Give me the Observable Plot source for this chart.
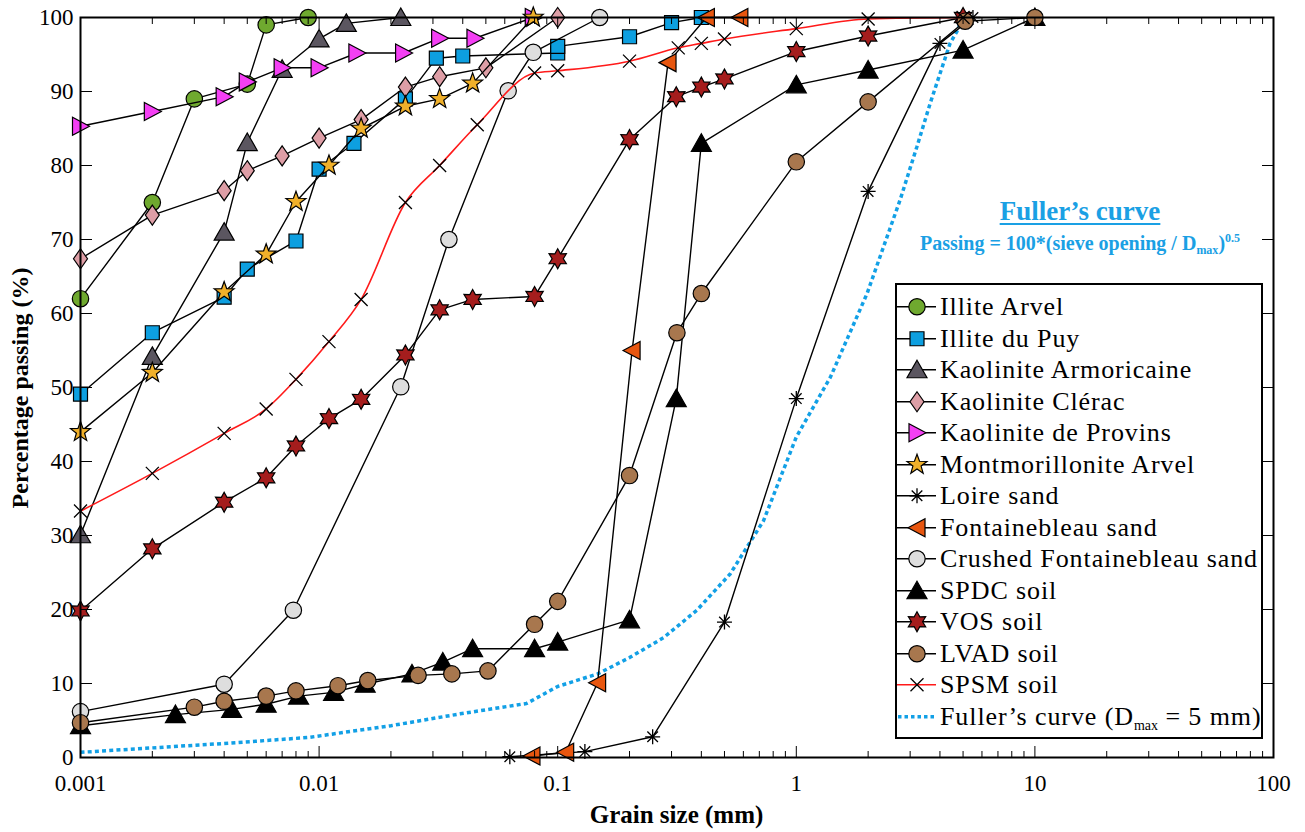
<!DOCTYPE html>
<html><head><meta charset="utf-8">
<script src="https://cdn.jsdelivr.net/npm/d3@7"></script>
<script src="https://cdn.jsdelivr.net/npm/@observablehq/plot@0.6"></script>
<style>
html,body{margin:0;padding:0;background:#fff;}
#wrap{position:relative;width:1305px;height:832px;font-family:"Liberation Serif","Times New Roman",serif;color:#000;}
#wrap svg{position:absolute;left:0;top:0;}
.ov{position:absolute;white-space:nowrap;}
#xtitle{left:0;width:1353px;top:801px;text-align:center;font-weight:bold;font-size:25px;line-height:28px;}
#ytitle{left:20px;top:388px;transform:translate(-50%,-50%) rotate(-90deg);font-weight:bold;font-size:24px;}
#fuller{left:880px;width:400px;top:196px;text-align:center;color:#1aa0e4;font-weight:bold;font-size:27px;text-decoration:underline;text-decoration-thickness:2px;text-underline-offset:3px;}
#fuller2{left:880px;width:400px;top:231px;text-align:center;color:#1aa0e4;font-weight:bold;font-size:20px;}
#fuller2 sub{font-size:12px;vertical-align:-4px;}
#fuller2 sup{font-size:12px;vertical-align:8px;}
#legend{left:895px;top:283px;width:364px;height:452px;border:2px solid #000;background:#fff;}
.row{position:absolute;left:0;height:31.5px;line-height:31.5px;font-size:26px;letter-spacing:0.9px;}
.row svg{position:absolute;left:2px;top:0;}
.row span{position:absolute;left:43px;top:0;}
.row sub{font-size:14px;vertical-align:-5px;letter-spacing:0;}
</style></head><body><div id="wrap"></div>
<script>
// ---------- data (grain size in mm, percentage passing) ----------
const illiteArvel = [[0.001,62],[0.002,75],[0.003,89],[0.005,91],[0.006,99],[0.009,100]];
const illiteDuPuy = [[0.001,49.1],[0.002,57.4],[0.004,62.2],[0.005,66],[0.008,69.8],[0.01,79.5],[0.014,83],[0.023,89],[0.031,94.5],[0.04,94.8],[0.1,95.2],[0.1,96.1],[0.2,97.4],[0.3,99.3],[0.4,100]];
const kaoliniteArmoricaine = [[0.001,30.1],[0.002,54.2],[0.004,71],[0.005,83.1],[0.007,93],[0.01,97.1],[0.013,99.2],[0.022,100]];
const kaoliniteClerac = [[0.001,67.4],[0.002,73.3],[0.004,76.6],[0.005,79.3],[0.007,81.3],[0.01,83.7],[0.015,86.2],[0.023,90.6],[0.032,92],[0.05,93.2],[0.1,100]];
const kaoliniteProvins = [[0.001,85.3],[0.002,87.3],[0.004,89.3],[0.005,91.3],[0.007,93.2],[0.01,93.2],[0.0144,95.2],[0.0226,95.2],[0.032,97.2],[0.045,97.2],[0.079,100]];
const montmorilloniteArvel = [[0.001,44],[0.002,52],[0.004,62.9],[0.006,68],[0.008,75.1],[0.011,80],[0.015,85],[0.023,88],[0.032,89],[0.044,91.1],[0.079,100]];
const loireSand = [[0.063,0.1],[0.13,0.8],[0.25,2.8],[0.5,18.3],[1,48.5],[2,76.5],[4,96.5],[5.5,100]];
const fontainebleauSand = [[0.078,0.2],[0.108,0.7],[0.147,10.1],[0.205,55],[0.29,93.9],[0.42,100],[0.58,100]];
const crushedFontainebleau = [[0.001,6.2],[0.004,9.9],[0.0078,19.9],[0.022,50.1],[0.035,70],[0.062,90.1],[0.079,95.3],[0.15,100]];
const spdcSoil = [[0.001,4.3],[0.0025,5.8],[0.0043,6.5],[0.006,7.2],[0.0082,8.3],[0.0115,8.8],[0.0156,9.9],[0.0245,11.3],[0.033,12.9],[0.044,14.7],[0.08,14.7],[0.1,15.6],[0.2,18.6],[0.314,48.5],[0.4,83],[1,90.9],[2,92.9],[5,95.6],[10,100]];
const vosSoil = [[0.001,19.8],[0.002,28.2],[0.004,34.5],[0.006,37.8],[0.008,42.1],[0.011,45.8],[0.015,48.4],[0.023,54.4],[0.032,60.5],[0.044,61.9],[0.08,62.3],[0.1,67.4],[0.2,83.5],[0.314,89.3],[0.4,90.6],[0.5,91.7],[1,95.4],[2,97.5],[5,100]];
const lvadSoil = [[0.001,4.7],[0.003,6.8],[0.004,7.6],[0.006,8.3],[0.008,9],[0.012,9.7],[0.016,10.4],[0.026,11.1],[0.036,11.3],[0.051,11.7],[0.08,18],[0.1,21.1],[0.2,38.1],[0.316,57.4],[0.4,62.7],[1,80.5],[2,88.6],[5.1,99.5],[10,100]];
const spsmSoil = [[0.001,33.3],[0.002,38.4],[0.004,43.8],[0.006,47.1],[0.008,51.1],[0.011,56.2],[0.015,61.9],[0.023,75],[0.032,80],[0.046,85.5],[0.08,92.5],[0.1,92.8],[0.2,94.1],[0.32,95.9],[0.4,96.5],[0.5,97.1],[1,98.5],[2,99.8],[5,100]];
const fullerCurve = [[0.001,0.7],[0.004,1.9],[0.009,2.7],[0.02,4.3],[0.039,5.9],[0.074,7.3],[0.1,9.6],[0.147,11.3],[0.2,13.5],[0.278,16.2],[0.383,19.9],[0.528,24.8],[0.729,32],[1,43.3],[1.39,51.4],[1.98,62.7],[2.32,69],[2.72,75.3],[3.2,82.5],[3.64,88.4],[4.01,92.5],[4.41,96.5],[4.71,98.1],[5,100]];

const xMajorTicks = [0.001,0.01,0.1,1,10,100];
const xTickLabels = ["0.001","0.01","0.1","1","10","100"];
const xMinorTicks = [0.002,0.003,0.004,0.005,0.006,0.007,0.008,0.009,0.02,0.03,0.04,0.05,0.06,0.07,0.08,0.09,0.2,0.3,0.4,0.5,0.6,0.7,0.8,0.9,2,3,4,5,6,7,8,9,20,30,40,50,60,70,80,90];
const yTicks = [0,10,20,30,40,50,60,70,80,90,100];
const yTickLabels = ["0","10","20","30","40","50","60","70","80","90","100"];

// ---------- symbols ----------
const R0 = 8.5;
function mk(fn){ return { draw(c, size){ const s = Math.sqrt(size/Math.PI)/R0; fn(c, s); } }; }
function poly(c, pts, s){ c.moveTo(pts[0][0]*s, pts[0][1]*s); for (let i=1;i<pts.length;i++) c.lineTo(pts[i][0]*s, pts[i][1]*s); c.closePath(); }
function starPts(n, ro, ri){ const p=[]; for(let i=0;i<2*n;i++){ const a=-Math.PI/2 + i*Math.PI/n; const r=i%2?ri:ro; p.push([r*Math.cos(a), r*Math.sin(a)]);} return p; }
const symCircle = mk((c,s)=>{ const r=8.2*s; c.moveTo(r,0); c.arc(0,0,r,0,2*Math.PI); c.closePath(); });
const symSquare = mk((c,s)=>poly(c,[[-7,-7],[7,-7],[7,7],[-7,7]],s));
const symTriUp = mk((c,s)=>poly(c,[[0,-9.5],[10,8],[-10,8]],s));
const symTriRight = mk((c,s)=>poly(c,[[9,0],[-8,-9],[-8,9]],s));
const symTriLeft = mk((c,s)=>poly(c,[[-9,0],[8,-9],[8,9]],s));
const symDiamond = mk((c,s)=>poly(c,[[0,-10],[7,0],[0,10],[-7,0]],s));
const symStar5 = mk((c,s)=>poly(c,starPts(5,10.5,4.3),s));
const symStar6 = mk((c,s)=>poly(c,starPts(6,10,5.6),s));
const symAsterisk = mk((c,s)=>{ const r=7.5*s, d=r*0.707; c.moveTo(0,-r);c.lineTo(0,r);c.moveTo(-r,0);c.lineTo(r,0);c.moveTo(-d,-d);c.lineTo(d,d);c.moveTo(-d,d);c.lineTo(d,-d); });
const symTimes = mk((c,s)=>{ const r=6.5*s; c.moveTo(-r,-r);c.lineTo(r,r);c.moveTo(-r,r);c.lineTo(r,-r); });

// ---------- series definitions ----------
const seriesNames = ["Illite Arvel","Illite du Puy","Kaolinite Armoricaine","Kaolinite Clérac","Kaolinite de Provins","Montmorillonite Arvel","Loire sand","Fontainebleau sand","Crushed Fontainebleau sand","SPDC soil","VOS soil","LVAD soil","SPSM soil"];
const seriesData = [illiteArvel, illiteDuPuy, kaoliniteArmoricaine, kaoliniteClerac, kaoliniteProvins, montmorilloniteArvel, loireSand, fontainebleauSand, crushedFontainebleau, spdcSoil, vosSoil, lvadSoil, spsmSoil];
const seriesSymbols = [symCircle, symSquare, symTriUp, symDiamond, symTriRight, symStar5, symAsterisk, symTriLeft, symCircle, symTriUp, symStar6, symCircle, symTimes];
const seriesFills = ["#6fa92f","#0d9fe0","#5b5660","#de9ea6","#f43ff4","#f0b02a","none","#e8560f","#dedede","#000000","#a51d1d","#a8774e","none"];
const seriesLineColors = ["#000","#000","#000","#000","#000","#000","#000","#000","#000","#000","#000","#000","#ff1a1a"];
const fullerColor = "#12a0e6";

const marks = [
  Plot.line(fullerCurve, {x: d=>d[0], y: d=>d[1], stroke: fullerColor, strokeWidth:3.5, strokeDasharray:"4 3.2", strokeLinecap:"butt", strokeLinejoin:"miter"})
];
seriesData.forEach((data, i) => {
  marks.push(Plot.line(data, {x: d=>d[0], y: d=>d[1], stroke: seriesLineColors[i], strokeWidth: i===12?1.6:1.4, curve: i===12?"monotone-x":"linear"}));
  const open = seriesFills[i] === "none";
  marks.push(Plot.dot(data, {x: d=>d[0], y: d=>d[1], r: R0, symbol: seriesSymbols[i], fill: seriesFills[i], stroke:"#000", strokeWidth: open?1.3:1.2}));
});

const xLab = new Map(xMajorTicks.map((d,i)=>[d, xTickLabels[i]]));
const yLab = new Map(yTicks.map((d,i)=>[d, yTickLabels[i]]));

const plot = Plot.plot({
  width:1305, height:832, marginLeft:80, marginRight:32, marginTop:17, marginBottom:75,
  x:{type:"log", domain:[0.001,100]},
  y:{domain:[0,100]},
  style:{fontFamily:'"Liberation Serif", "Times New Roman", serif', fontSize:"23px", color:"#000", background:"transparent", overflow:"visible"},
  marks:[
    ...marks,
    Plot.axisX(xMajorTicks,{anchor:"bottom", tickSize:0, tickPadding:17, tickFormat:d=>xLab.get(d), label:null}),
    Plot.axisX(xMajorTicks,{anchor:"bottom", tickSize:-11, tickFormat:()=>"", label:null}),
    Plot.axisX(xMinorTicks,{anchor:"bottom", tickSize:-6, tickFormat:()=>"", label:null}),
    Plot.axisX(xMajorTicks,{anchor:"top", tickSize:-11, tickFormat:()=>"", label:null}),
    Plot.axisX(xMinorTicks,{anchor:"top", tickSize:-6, tickFormat:()=>"", label:null}),
    Plot.axisY(yTicks,{anchor:"left", tickSize:0, tickPadding:7, tickFormat:d=>yLab.get(d), label:null}),
    Plot.axisY(yTicks,{anchor:"left", tickSize:-12, tickFormat:()=>"", label:null}),
    Plot.axisY(yTicks,{anchor:"right", tickSize:-12, tickFormat:()=>"", label:null}),
    Plot.frame({stroke:"#000", strokeWidth:2})
  ]
});
const wrap = document.getElementById("wrap");
wrap.appendChild(plot);

function addDiv(id, html){ const d=document.createElement("div"); d.className="ov"; d.id=id; d.innerHTML=html; wrap.appendChild(d); return d; }
addDiv("xtitle","Grain size (mm)");
addDiv("ytitle","Percentage passing (%)");
addDiv("fuller","Fuller’s curve");
addDiv("fuller2","Passing = 100*(sieve opening / D<sub>max</sub>)<sup>0.5</sup>");

// ---------- legend ----------
const legend = addDiv("legend","");
const legendLabels = [...seriesNames, "Fuller’s curve (D<sub>max</sub> = 5 mm)"];
const rowH = 31.5;
legendLabels.forEach((lab, i) => {
  const row = document.createElement("div");
  row.className = "row";
  row.style.top = (6 + i*rowH) + "px";
  const svg = d3.create("svg").attr("width",40).attr("height",rowH);
  const cy = rowH/2;
  if (i < seriesNames.length) {
    svg.append("line").attr("x1",0).attr("x2",39).attr("y1",cy).attr("y2",cy).attr("stroke", seriesLineColors[i]).attr("stroke-width",1.5);
    const open = seriesFills[i] === "none";
    svg.append("path").attr("transform",`translate(20,${cy})`)
      .attr("d", d3.symbol().type(seriesSymbols[i]).size(Math.PI*R0*R0)())
      .attr("fill", seriesFills[i]).attr("stroke","#000").attr("stroke-width", open?1.3:1.2);
  } else {
    svg.append("line").attr("x1",1).attr("x2",39).attr("y1",cy).attr("y2",cy).attr("stroke",fullerColor).attr("stroke-width",3.5).attr("stroke-dasharray","3.5 3");
  }
  row.appendChild(svg.node());
  const sp = document.createElement("span");
  sp.innerHTML = lab;
  row.appendChild(sp);
  legend.appendChild(row);
});
</script></body></html>
